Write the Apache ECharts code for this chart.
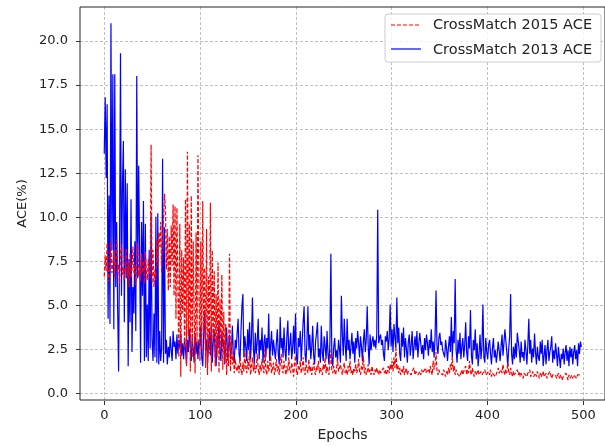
<!DOCTYPE html>
<html>
<head>
<meta charset="utf-8">
<script src="https://cdn.jsdelivr.net/npm/echarts@6/dist/echarts.min.js"></script>
<style>
html,body{margin:0;padding:0;background:#fff;}
#chart{width:605px;height:447px;}
</style>
</head>
<body>
<div id="chart"></div>
<script>
// ---- data ----
const seriesNames = ['CrossMatch 2015 ACE', 'CrossMatch 2013 ACE'];
const xTickLabels = ['0', '100', '200', '300', '400', '500'];
const yTickLabels = ['0.0', '2.5', '5.0', '7.5', '10.0', '12.5', '15.0', '17.5', '20.0'];

const ace2015 = [
6.6,7.8,6.9,8.5,7.0,6.3,7.5,8.6,6.8,7.2,
8.1,6.5,7.7,8.7,6.9,7.3,6.2,7.9,8.4,6.7,
7.1,6.4,7.6,8.2,6.6,7.4,6.0,7.9,6.5,7.0,
8.3,6.8,7.3,6.1,7.7,8.5,6.6,7.1,6.3,7.9,
6.8,7.5,6.2,8.0,6.9,6.4,7.6,7.0,6.5,14.1,
6.2,8.1,6.0,7.0,6.4,8.7,7.2,9.1,8.3,9.7,
6.8,9.0,9.8,11.3,10.5,7.0,9.3,5.8,8.9,6.0,
9.5,7.2,10.7,5.5,10.6,4.2,10.5,6.0,2.0,9.6,
0.9,8.1,4.5,7.7,2.5,11.0,1.5,13.7,3.2,9.6,
1.2,11.2,2.0,8.6,4.5,1.1,9.1,2.8,13.5,6.0,
1.8,8.6,2.4,10.9,3.5,7.1,1.4,9.3,1.0,6.6,
2.2,10.8,1.2,8.1,3.0,6.9,1.5,5.6,2.0,7.4,
1.1,5.3,2.5,6.7,1.3,4.6,1.7,3.9,1.0,2.6,
1.5,7.9,1.2,3.0,1.6,2.2,1.1,1.9,1.4,1.2,
1.6,1.1,2.0,1.3,1.0,1.7,1.2,2.3,1.4,1.1,
1.9,1.3,2.4,1.0,1.5,2.0,1.2,1.7,1.1,1.4,
2.2,1.3,1.0,1.6,1.2,1.9,1.4,1.1,2.5,1.3,
1.0,1.8,1.2,1.5,2.1,1.1,1.4,1.7,1.0,1.3,
1.9,1.2,1.5,1.0,1.6,2.2,1.3,1.1,1.8,1.4,
1.0,1.5,1.2,2.0,1.3,1.1,1.7,1.4,0.9,1.6,
2.1,1.2,1.0,1.5,1.3,1.8,1.1,1.4,2.0,1.2,
1.0,1.6,1.3,1.1,1.9,1.2,1.5,1.0,1.4,1.7,
1.2,1.0,1.5,1.3,1.8,1.1,1.4,1.2,1.0,1.6,
1.3,2.0,1.1,1.5,1.2,1.0,1.7,2.4,1.3,1.1,
1.5,1.2,1.0,1.4,1.9,1.2,1.1,1.6,1.3,1.0,
1.4,1.7,1.1,1.3,1.0,1.5,1.2,1.8,1.1,1.3,
1.0,1.4,1.2,1.6,1.1,1.3,1.9,1.2,1.0,1.5,
1.3,2.1,1.1,1.4,1.0,1.2,1.6,1.1,1.3,1.0,
1.5,1.2,1.0,1.3,1.1,1.4,1.2,1.0,1.3,1.1,
1.0,1.2,1.4,1.1,1.3,1.0,1.2,1.5,1.1,1.6,
1.3,1.8,1.2,2.0,1.4,2.5,1.3,1.6,1.1,1.4,
1.0,1.3,1.1,1.5,1.0,1.2,1.4,1.0,1.2,1.1,
1.3,1.0,1.2,1.1,1.4,1.0,1.2,1.3,1.0,1.1,
1.2,1.0,1.3,1.1,1.0,1.2,1.4,1.1,1.0,1.3,
1.1,1.5,1.2,1.0,1.8,1.3,1.6,2.3,1.2,1.0,
1.3,1.1,1.0,1.2,1.0,1.3,1.1,0.9,1.2,1.0,
1.4,1.1,1.6,1.3,2.05,1.2,1.5,1.0,1.3,1.1,
1.0,1.2,0.9,1.1,1.3,1.0,1.2,1.1,1.5,1.0,
1.3,1.1,1.8,1.2,1.0,1.4,1.1,0.9,1.2,1.0,
1.1,1.3,1.0,0.9,1.2,1.0,1.1,0.9,1.3,1.0,
1.1,0.9,1.2,1.0,1.3,0.9,1.1,1.0,1.2,0.9,
1.0,1.2,1.4,1.1,1.0,1.3,1.1,1.6,1.2,1.0,
1.3,1.1,1.7,1.2,1.0,1.4,1.1,0.9,1.2,1.0,
1.1,0.9,1.3,1.0,1.2,0.9,1.1,1.0,0.8,1.1,
1.0,1.2,0.9,1.1,1.0,1.3,0.9,1.0,1.2,0.9,
1.0,1.1,0.9,1.2,1.0,0.8,1.1,0.9,1.0,1.2,
0.9,1.0,1.1,0.8,1.0,0.9,1.2,1.0,0.8,1.0,
1.1,0.9,1.0,0.8,0.9,1.1,0.8,1.0,0.9,0.7,
0.9,1.0,0.8,1.1,0.9,0.7,1.0,0.8,0.9,1.0,
0.8,1.0,0.9,1.1,0.8,1.0,0.9,1.1,1.0,1.0
];

const ace2013 = [
13.6,16.8,12.2,16.4,4.2,11.2,3.9,21.0,8.1,18.1,
3.6,18.1,6.0,9.7,4.8,1.2,8.1,19.3,5.5,11.7,
14.3,4.0,12.7,6.5,11.9,1.5,7.6,4.0,11.0,2.3,
6.0,4.5,8.6,3.5,18.0,6.5,12.9,8.1,1.7,9.7,
5.5,10.9,1.8,9.6,2.0,5.0,1.8,8.1,2.5,10.1,
3.0,1.8,4.5,2.0,10.0,1.7,10.2,1.6,3.5,1.8,
2.5,13.3,1.7,9.4,2.2,3.0,1.6,2.6,2.0,3.2,
2.4,1.8,3.5,2.6,2.9,1.9,3.3,2.2,3.0,2.5,
3.4,2.1,2.8,1.9,3.1,2.4,1.6,3.0,2.3,3.6,
2.7,1.8,3.1,2.5,1.7,3.4,2.2,2.9,1.9,3.0,
2.6,3.8,2.0,1.5,3.3,4.7,2.4,3.0,1.6,2.7,
3.5,2.1,3.9,1.7,2.9,3.6,2.2,1.5,3.2,2.5,
4.0,2.3,1.8,3.4,2.6,3.0,1.6,2.8,3.7,2.0,
2.6,3.3,1.9,2.4,3.8,2.1,1.7,3.0,2.5,3.4,
4.2,2.2,1.8,3.5,4.9,5.6,2.0,3.2,2.6,1.8,
3.6,2.4,4.0,1.9,3.1,5.4,2.5,1.6,3.4,2.2,
2.9,4.2,1.9,3.0,2.4,3.7,1.7,2.8,3.3,2.0,
3.1,2.5,4.5,1.8,2.7,3.5,2.1,3.0,2.4,1.9,
2.8,3.6,2.2,1.6,4.3,2.5,3.1,2.0,3.7,2.4,
1.8,3.2,4.1,2.1,2.7,3.4,1.9,2.5,3.8,2.2,
4.5,2.0,1.6,3.1,2.6,3.5,1.8,2.9,4.0,4.9,
2.2,1.7,3.0,4.9,2.4,3.3,1.9,2.6,3.8,2.1,
1.6,2.9,3.4,4.0,2.0,2.5,1.7,3.8,2.3,1.8,
3.2,2.6,1.9,3.5,2.2,1.6,2.8,7.9,2.0,1.5,
2.6,3.1,2.0,2.4,1.8,3.0,2.5,1.7,5.5,3.3,
2.1,4.2,2.7,1.8,4.2,2.4,3.0,1.9,2.6,3.4,
2.2,2.9,1.7,3.1,2.5,3.5,2.8,2.0,3.2,2.6,
1.8,2.9,3.6,2.3,3.0,4.9,2.7,1.6,3.3,2.4,
2.9,3.2,2.6,3.0,2.5,3.3,10.4,2.8,3.1,3.3,
2.7,3.0,2.2,1.8,3.2,2.9,3.5,2.4,3.1,5.0,
2.6,3.6,2.3,3.9,3.1,2.5,5.4,2.8,3.7,2.2,
1.8,3.4,2.6,3.7,2.0,3.1,2.5,1.7,2.9,3.3,
2.1,2.7,3.5,1.9,2.6,3.2,2.4,3.5,2.0,2.8,
3.4,3.5,2.2,2.7,1.9,3.1,2.4,3.3,2.8,2.1,
3.0,2.5,3.6,2.3,2.9,2.0,3.2,5.8,2.6,2.2,
3.1,3.4,2.7,2.9,2.4,2.2,2.0,3.0,2.5,1.8,
2.6,3.2,2.3,4.3,2.0,3.5,2.8,6.45,2.4,1.7,
3.0,2.2,3.4,1.9,2.6,3.1,2.0,2.7,4.0,2.3,
1.8,3.2,2.5,4.7,2.1,1.6,3.0,2.4,3.6,1.9,
2.8,1.5,2.2,3.3,1.9,2.6,5.0,2.0,1.7,3.1,
2.3,1.9,2.7,3.0,2.2,1.6,2.5,3.1,2.0,2.4,
1.7,2.2,2.9,2.4,1.8,2.6,3.3,2.1,2.8,3.6,
3.6,2.3,1.5,2.5,3.2,5.6,2.2,1.6,2.6,1.9,
2.8,2.0,3.4,3.4,2.4,1.7,2.9,2.0,2.3,1.8,
3.0,2.4,1.6,2.7,4.2,2.2,3.0,1.7,2.5,2.0,
3.35,2.3,1.6,2.6,2.0,1.8,2.9,2.2,3.0,1.5,
2.1,2.7,1.6,2.4,3.0,1.8,2.3,2.6,3.2,1.7,
2.4,1.9,2.8,2.2,1.5,2.6,2.0,1.4,2.2,1.9,
2.5,1.6,2.3,2.7,1.8,2.4,1.5,2.6,2.0,2.5,
1.6,2.3,2.7,1.9,2.4,1.5,2.8,2.2,2.9,2.6
];

// ---- build chart ----
const FONT = 'DejaVu Sans';
const toPairs = arr => arr.map((v, i) => [i, v]);
const RED = '#ff0000', BLUE = '#0000ff';
const redLine = {color: RED, width: 1.2, type: [4, 2]};
const blueLine = {color: BLUE, width: 1.2, type: 'solid'};

// frame / data grid geometry
const pxPerEpoch = 479 / 500;
const pxPerUnit = 352.5 / 20;
const y0px = 393.5;
const frame = {left: 80, top: 7, width: 526, height: 394};
const xMinF = -(104.3 - frame.left) / pxPerEpoch;
const xMaxF = xMinF + frame.width / pxPerEpoch;
const yMinF = -(frame.top + frame.height - y0px) / pxPerUnit;
const yMaxF = (y0px - frame.top) / pxPerUnit;

// legend geometry
const leg = {left: 385, top: 14, padTop: 4, padLeft: 6, itemW: 30, itemH: 14, gap: 10};
const legY = i => leg.top + leg.padTop + i * (leg.itemH + leg.gap) + leg.itemH / 2;
const legX0 = leg.left + leg.padLeft;

const gridDash = {color: '#b0b0b0', width: 0.8, type: [3, 2]};
const clearIcon = {color: 'rgba(0,0,0,0)', borderWidth: 0, borderColor: 'rgba(0,0,0,0)'};

const chart = echarts.init(document.getElementById('chart'), null, {renderer: 'canvas'});
chart.setOption({
  animation: false,
  backgroundColor: '#fff',
  textStyle: {fontFamily: FONT},
  grid: [
    {left: frame.left, top: frame.top, width: frame.width, height: frame.height, show: true, borderColor: '#222', borderWidth: 1, backgroundColor: 'transparent', z: 3},
    {left: 104.3, top: frame.top, width: 479, height: frame.height},
    {left: frame.left, top: y0px - 352.5, width: frame.width, height: 352.5}
  ],
  xAxis: [
    {gridIndex: 0, type: 'value', min: xMinF, max: xMaxF, axisLine: {show: false}, axisTick: {show: false}, axisLabel: {show: false}, splitLine: {show: false},
     name: 'Epochs', nameLocation: 'middle', nameGap: 28, nameTextStyle: {fontFamily: FONT, fontSize: 14, color: '#222'}},
    {gridIndex: 1, type: 'value', min: 0, max: 500, interval: 100, axisLine: {show: false},
     axisTick: {show: true, length: 4, lineStyle: {color: '#333'}},
     axisLabel: {show: true, margin: 8, fontFamily: FONT, fontSize: 13, color: '#222', formatter: (v) => xTickLabels[Math.round(v / 100)]},
     splitLine: {show: true, lineStyle: gridDash}},
    {gridIndex: 2, type: 'value', min: 0, max: 1, show: false}
  ],
  yAxis: [
    {gridIndex: 0, type: 'value', min: yMinF, max: yMaxF, axisLine: {show: false}, axisTick: {show: false}, axisLabel: {show: false}, splitLine: {show: false},
     name: 'ACE(%)', nameLocation: 'middle', nameGap: 51, nameRotate: 90, nameTextStyle: {fontFamily: FONT, fontSize: 13, color: '#222'}},
    {gridIndex: 1, type: 'value', min: 0, max: 1, show: false},
    {gridIndex: 2, type: 'value', min: 0, max: 20, interval: 2.5, axisLine: {show: false},
     axisTick: {show: true, length: 4, lineStyle: {color: '#333'}},
     axisLabel: {show: true, margin: 12, fontFamily: FONT, fontSize: 13, color: '#222', formatter: (v) => yTickLabels[Math.round(v / 2.5)]},
     splitLine: {show: true, lineStyle: gridDash}}
  ],
  legend: {
    data: [
      {name: seriesNames[0], icon: 'rect', itemStyle: clearIcon},
      {name: seriesNames[1], icon: 'rect', itemStyle: clearIcon}
    ],
    orient: 'vertical',
    left: leg.left, top: leg.top,
    padding: [leg.padTop, 9, 4, leg.padLeft],
    itemWidth: leg.itemW, itemHeight: leg.itemH, itemGap: leg.gap,
    backgroundColor: 'rgba(255,255,255,0.8)',
    borderColor: '#cccccc', borderWidth: 1, borderRadius: 3,
    textStyle: {fontFamily: FONT, fontSize: 14.5, color: '#222', padding: [0, 0, 0, 7]}
  },
  graphic: [
    {type: 'line', z: 200, silent: true,
     shape: {x1: legX0, y1: legY(0), x2: legX0 + leg.itemW, y2: legY(0)},
     style: {stroke: RED, lineWidth: 1.2, lineDash: [4, 2]}},
    {type: 'line', z: 200, silent: true,
     shape: {x1: legX0, y1: legY(1), x2: legX0 + leg.itemW, y2: legY(1)},
     style: {stroke: BLUE, lineWidth: 1.2}}
  ],
  series: [
    {name: seriesNames[1], type: 'line', xAxisIndex: 0, yAxisIndex: 0, data: toPairs(ace2013), showSymbol: false, symbol: 'none',
     lineStyle: blueLine, itemStyle: {color: BLUE}, z: 2},
    {name: seriesNames[0], type: 'line', xAxisIndex: 0, yAxisIndex: 0, data: toPairs(ace2015), showSymbol: false, symbol: 'none',
     lineStyle: redLine, itemStyle: {color: RED}, z: 3}
  ]
});
</script>
</body>
</html>
